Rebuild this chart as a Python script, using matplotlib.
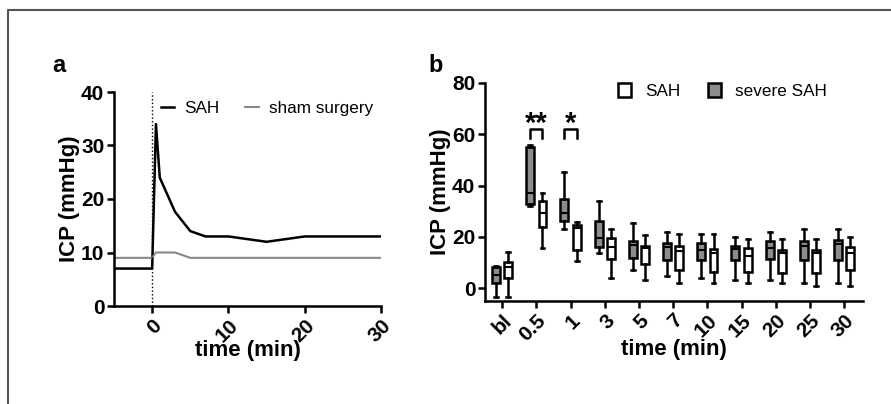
import numpy as np
import matplotlib.pyplot as plt
from matplotlib.lines import Line2D
from matplotlib.patches import Patch

plt.rcParams['font.family'] = ['Liberation Sans', 'DejaVu Sans']

# panel a: ICP time course
t_sah = [-5, 0, 0.5, 1, 3, 5, 7, 10, 15, 20, 25, 30]
icp_sah = [7, 7, 34, 24, 17.6, 14, 13, 13, 12, 13, 13, 13]
t_sham = [-5, 0, 0.5, 1, 3, 5, 7, 10, 15, 20, 25, 30]
icp_sham = [9, 9, 10, 10, 10, 9, 9, 9, 9, 9, 9, 9]

# panel b: box statistics (whislo, q1, med, q3, whishi)
times = ['bl', '0.5', '1', '3', '5', '7', '10', '15', '20', '25', '30']
severe = [
    (-3.4, 2.2, 5.0, 8.3, 8.5),
    (32.0, 32.8, 37.2, 55.0, 55.9),
    (22.9, 26.3, 29.4, 34.9, 45.2),
    (13.8, 16.1, 19.4, 26.2, 34.0),
    (7.2, 11.7, 16.9, 18.5, 25.4),
    (4.9, 10.8, 16.0, 17.6, 21.8),
    (3.9, 11.0, 15.0, 17.6, 21.0),
    (3.0, 11.0, 15.2, 16.5, 19.9),
    (3.0, 11.4, 15.6, 18.2, 21.8),
    (2.0, 11.0, 16.3, 18.2, 23.1),
    (2.0, 11.0, 17.3, 18.9, 23.1),
]
sah = [
    (-3.4, 3.8, 8.1, 10.3, 14.0),
    (15.7, 23.7, 29.4, 34.0, 37.0),
    (10.7, 14.8, 23.3, 24.6, 25.9),
    (3.8, 11.3, 16.1, 19.7, 23.0),
    (3.0, 9.5, 15.6, 16.6, 20.8),
    (2.0, 6.9, 14.6, 16.3, 21.0),
    (2.0, 6.5, 13.9, 15.3, 21.0),
    (2.0, 6.2, 12.6, 15.6, 19.1),
    (2.0, 6.1, 13.7, 15.0, 19.1),
    (0.9, 6.1, 13.7, 15.0, 19.1),
    (0.9, 7.1, 13.7, 16.0, 19.9),
]
sig = [(1, '**'), (2, '*')]

fig = plt.figure(figsize=(8.91, 4.04), dpi=100)

# frame lines around the figure
fig.add_artist(Line2D([8/891, 8/891, 1], [0, 1-10/404, 1-10/404],
                      transform=fig.transFigure, color='#555555', lw=1.5))

TICK = 15
LAB = 16

# ---- panel a
ax = fig.add_axes([114/891, 98/404, 267/891, 214/404])
ax.plot(t_sah, icp_sah, color='black', lw=1.8, label='SAH')
ax.plot(t_sham, icp_sham, color='#888888', lw=1.5, label='sham surgery')
ax.axvline(0, color='black', ls=':', lw=1)
ax.set_xlim(-5, 30)
ax.set_ylim(0, 40)
ax.set_xticks([0, 10, 20, 30])
ax.set_yticks([0, 10, 20, 30, 40])
ax.set_xticklabels(['0', '10', '20', '30'], rotation=45, ha='right', va='top',
                   rotation_mode='anchor')
for s in ['top', 'right']:
    ax.spines[s].set_visible(False)
for s in ['left', 'bottom']:
    ax.spines[s].set_linewidth(1.8)
ax.tick_params(width=1.8, length=5, labelsize=TICK, pad=2)
for lab in ax.get_xticklabels() + ax.get_yticklabels():
    lab.set_fontweight('bold')
ax.set_xlabel('time (min)', fontsize=LAB, fontweight='bold', labelpad=-4)
ax.set_ylabel('ICP (mmHg)', fontsize=LAB, fontweight='bold', labelpad=1)
ax.legend(loc='upper right', ncol=2, frameon=False, fontsize=12.3,
          handlelength=0.8, handletextpad=0.6, columnspacing=1.5,
          bbox_to_anchor=(1.03, 1.03))
fig.text(52/891, 1-66/404, 'a', fontsize=17, fontweight='bold', va='center')

# ---- panel b
bx = fig.add_axes([485/891, 103/404, 378/891, 218/404])
pos = np.arange(len(times))
off = 0.18

def stats(rows):
    return [dict(whislo=r[0], q1=r[1], med=r[2], q3=r[3], whishi=r[4]) for r in rows]

common = dict(widths=0.23, patch_artist=True, showfliers=False,
              whiskerprops=dict(color='black', lw=1.8),
              capprops=dict(color='black', lw=1.8),
              medianprops=dict(color='black', lw=1.5))
bx.bxp(stats(severe), positions=pos - off,
       boxprops=dict(facecolor='#8c8c8c', edgecolor='black', lw=1.8), **common)
bx.bxp(stats(sah), positions=pos + off,
       boxprops=dict(facecolor='white', edgecolor='black', lw=1.8), **common)

for i, star in sig:
    x0, x1 = i - off, i + off
    bx.plot([x0, x0, x1, x1], [58.5, 62, 62, 58.5], color='black', lw=1.8)
    bx.text(i, 58.5, star, ha='center', va='bottom', fontsize=21, fontweight='bold')

bx.set_xlim(-0.5, 10.55)
bx.set_ylim(-5, 80)
bx.set_yticks([0, 20, 40, 60, 80])
bx.set_xticks(pos)
bx.set_xticklabels(times, rotation=45, ha='right', va='top', rotation_mode='anchor')
for s in ['top', 'right']:
    bx.spines[s].set_visible(False)
for s in ['left', 'bottom']:
    bx.spines[s].set_linewidth(1.8)
bx.tick_params(width=1.8, length=5, labelsize=TICK, pad=2)
for lab in bx.get_xticklabels() + bx.get_yticklabels():
    lab.set_fontweight('bold')
bx.set_xlabel('time (min)', fontsize=LAB, fontweight='bold', labelpad=-4)
bx.set_ylabel('ICP (mmHg)', fontsize=LAB, fontweight='bold', labelpad=1)
handles = [Patch(facecolor='white', edgecolor='black', lw=1.8, label='SAH'),
           Patch(facecolor='#8c8c8c', edgecolor='black', lw=1.8, label='severe SAH')]
bx.legend(handles=handles, loc='upper right', ncol=2, frameon=False, fontsize=12.3,
          handlelength=0.8, handleheight=0.9, columnspacing=1.6,
          bbox_to_anchor=(0.945, 1.07))
fig.text(428/891, 1-66/404, 'b', fontsize=17, fontweight='bold', va='center')

fig.savefig('out.png', dpi=100)
